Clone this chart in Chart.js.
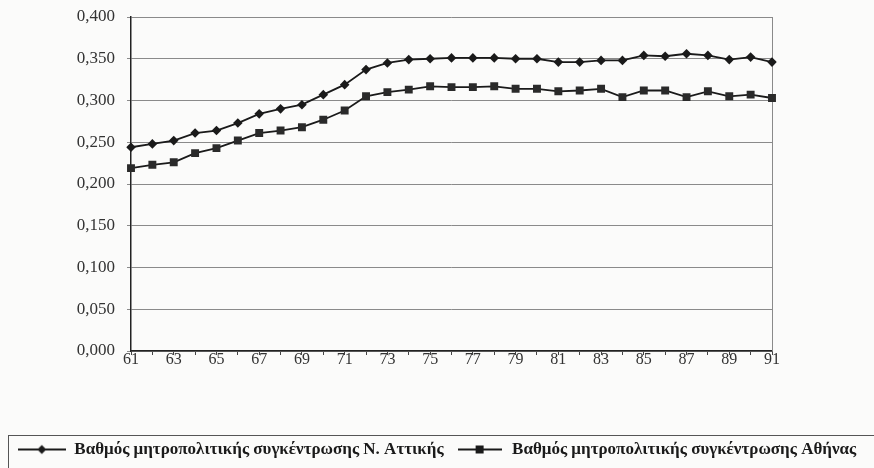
<!DOCTYPE html>
<html>
<head>
<meta charset="utf-8">
<script src="https://cdn.jsdelivr.net/npm/chart.js@4.4.0/dist/chart.umd.min.js"></script>
<style>
  html, body { margin: 0; padding: 0; background: #fbfbfa; }
  #wrap { width: 874px; height: 468px; }
</style>
</head>
<body>
<div id="wrap"><canvas id="canvas" width="874" height="468"></canvas></div>
<script>
// years 1961-1991 (two-digit labels)
var years = ['61','62','63','64','65','66','67','68','69','70','71','72','73','74','75','76',
             '77','78','79','80','81','82','83','84','85','86','87','88','89','90','91'];
var attiki = [0.244,0.248,0.252,0.261,0.264,0.273,0.284,0.290,0.295,0.307,0.319,0.337,0.345,0.349,0.350,0.351,
              0.351,0.351,0.350,0.350,0.346,0.346,0.348,0.348,0.354,0.353,0.356,0.354,0.349,0.352,0.346];
var athens = [0.219,0.223,0.226,0.237,0.243,0.252,0.261,0.264,0.268,0.277,0.288,0.305,0.310,0.313,0.317,0.316,
              0.316,0.317,0.314,0.314,0.311,0.312,0.314,0.304,0.312,0.312,0.304,0.311,0.305,0.307,0.303];
var seriesNames = ['Βαθμός μητροπολιτικής συγκέντρωσης Ν. Αττικής',
                   'Βαθμός μητροπολιτικής συγκέντρωσης Αθήνας'];
var yTicks = [0, 0.05, 0.1, 0.15, 0.2, 0.25, 0.3, 0.35, 0.4];

var ink = '#1a1a1a';
var serif = '"Liberation Serif", "DejaVu Serif", serif';

// legend symbol: short line with the marker in the middle
function legendSymbol(kind, w) {
  var c = document.createElement('canvas');
  c.width = w; c.height = 12;
  var g = c.getContext('2d');
  g.strokeStyle = ink; g.lineWidth = 1.8;
  g.beginPath(); g.moveTo(0, 6); g.lineTo(w, 6); g.stroke();
  g.fillStyle = ink;
  g.beginPath();
  if (kind == 'diamond') {
    g.moveTo(w / 2 - 4.5, 6); g.lineTo(w / 2, 1.5); g.lineTo(w / 2 + 4.5, 6); g.lineTo(w / 2, 10.5);
  } else {
    g.rect(w / 2 - 4, 2, 8, 8);
  }
  g.fill();
  return c;
}
var symbols = [legendSymbol('diamond', 48), legendSymbol('square', 44)];

var frame = {
  id: 'frame',
  beforeDatasetsDraw: function (chart) {
    var a = chart.chartArea, ctx = chart.ctx;
    ctx.save();
    ctx.strokeStyle = '#8a8a8a'; ctx.lineWidth = 1;
    ctx.beginPath();
    ctx.moveTo(Math.round(a.right) + 0.5, a.top);
    ctx.lineTo(Math.round(a.right) + 0.5, a.bottom);
    ctx.stroke();
    ctx.restore();
  },
  afterDraw: function (chart) {
    var l = chart.legend, ctx = chart.ctx;
    if (!l || !l.legendHitBoxes.length) return;
    var top = Math.round(l.legendHitBoxes[0].top - 6) + 0.5;
    ctx.save();
    ctx.strokeStyle = '#555'; ctx.lineWidth = 1;
    ctx.strokeRect(8.5, top, chart.width, 60);
    ctx.restore();
  }
};

var ctxL = document.getElementById('canvas').getContext('2d');
var chart = new Chart(ctxL, {
  type: 'line',
  data: {
    labels: years,
    datasets: [{
      label: seriesNames[0],
      data: attiki,
      borderColor: ink,
      backgroundColor: ink,
      borderWidth: 1.8,
      pointStyle: 'rectRot',
      pointRadius: 4.8,
      pointBorderWidth: 0,
      tension: 0
    },
    {
      label: seriesNames[1],
      data: athens,
      borderColor: ink,
      backgroundColor: '#2a2a2a',
      borderWidth: 1.8,
      pointStyle: 'rect',
      pointRadius: 5.6,
      pointBorderWidth: 0,
      tension: 0
    }]
  },
  options: {
    responsive: false,
    animation: false,
    layout: { padding: { left: 0, right: 0, top: 0, bottom: 0 } },
    plugins: {
      tooltip: { enabled: false },
      legend: {
        position: 'bottom',
        labels: {
          usePointStyle: true,
          pointStyleWidth: 48,
          padding: 12,
          color: ink,
          font: { family: serif, size: 17, weight: 'bold' },
          generateLabels: function (chart) {
            return chart.data.datasets.map(function (ds, i) {
              return {
                text: ds.label,
                pointStyle: symbols[i],
                fillStyle: ink,
                strokeStyle: ink,
                lineWidth: 0,
                fontColor: ink,
                hidden: false,
                datasetIndex: i
              };
            });
          }
        }
      }
    },
    scales: {
      x: {
        offset: false,
        grid: { drawOnChartArea: false, drawTicks: true, tickLength: 4, color: '#444' },
        border: { color: '#222', width: 1.5 },
        ticks: {
          autoSkip: false,
          maxRotation: 0,
          padding: -5,
          color: '#333',
          font: { family: serif, size: 16 },
          callback: function (v, i) { return i % 2 == 0 ? years[i] : ''; }
        },
        afterFit: function (scale) { scale.height = 78; }
      },
      y: {
        min: 0,
        max: 0.4,
        afterBuildTicks: function (scale) {
          scale.ticks = yTicks.map(function (v) { return { value: v }; });
        },
        afterFit: function (scale) { scale.width = 131; scale.paddingTop = 17; },
        grid: { color: '#8a8a8a', lineWidth: 1, tickLength: 4 },
        border: { color: '#222', width: 1.5 },
        ticks: {
          padding: 12,
          color: '#333',
          font: { family: serif, size: 17 },
          callback: function (v) { return v.toFixed(3).replace('.', ','); }
        }
      },
      // empty right-hand axis, only to keep the plot clear of the right edge
      spacer: {
        position: 'right',
        min: 0,
        max: 1,
        grid: { display: false },
        border: { display: false },
        ticks: { display: false },
        afterFit: function (scale) { scale.width = 102; }
      }
    }
  },
  plugins: [frame]
});
</script>
</body>
</html>
